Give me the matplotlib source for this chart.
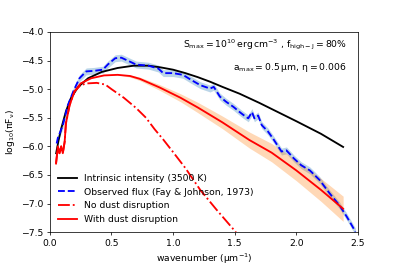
import numpy as np
import matplotlib
matplotlib.use('Agg')
import matplotlib.pyplot as plt

plt.rcParams['mathtext.default'] = 'regular'

# intrinsic intensity (3500 K)
bb_x = [0.051, 0.07, 0.092, 0.13, 0.17, 0.23, 0.31, 0.42, 0.55, 0.68, 0.8, 0.9, 1.0,
        1.1, 1.2, 1.3, 1.4, 1.54, 1.7, 1.85, 2.0, 2.2, 2.38]
bb_y = [-6.12, -5.9, -5.69, -5.39, -5.16, -4.96, -4.81, -4.70, -4.63, -4.59, -4.59, -4.62, -4.66,
        -4.72, -4.79, -4.87, -4.96, -5.08, -5.24, -5.40, -5.56, -5.78, -6.01]

# observed flux (Fay & Johnson 1973)
obs_x = [0.055, 0.065, 0.08, 0.105, 0.146, 0.19, 0.24, 0.295, 0.36, 0.43, 0.47, 0.53, 0.58,
         0.64, 0.70, 0.80, 0.88, 0.92, 1.0, 1.08, 1.14, 1.22, 1.30, 1.33, 1.38, 1.43, 1.49,
         1.54, 1.57, 1.61, 1.64, 1.66, 1.69, 1.72, 1.77, 1.81, 1.88, 1.92, 1.98, 2.04, 2.11,
         2.19, 2.27, 2.35, 2.41, 2.48]
obs_y = [-5.95, -5.85, -5.77, -5.63, -5.28, -5.04, -4.81, -4.69, -4.68, -4.66, -4.57, -4.46, -4.45,
         -4.51, -4.57, -4.59, -4.64, -4.72, -4.72, -4.75, -4.83, -4.93, -4.99, -4.96, -5.13, -5.22, -5.31,
         -5.40, -5.45, -5.51, -5.40, -5.51, -5.46, -5.63, -5.74, -5.86, -6.09, -6.07, -6.21, -6.33, -6.42,
         -6.59, -6.82, -7.03, -7.23, -7.49]
obs_err = 0.06

# no dust disruption
nod_x = [0.05, 0.065, 0.078, 0.092, 0.105, 0.12, 0.13, 0.16, 0.2, 0.25, 0.3, 0.38, 0.45, 0.5,
         0.6, 0.7, 0.78, 0.85, 0.92, 1.0, 1.1, 1.22, 1.35, 1.51]
nod_y = [-6.30, -6.0, -6.12, -6.0, -6.12, -5.92, -5.6, -5.28, -5.04, -4.93, -4.90, -4.89, -4.92, -5.0,
         -5.15, -5.33, -5.5, -5.7, -5.88, -6.1, -6.38, -6.76, -7.1, -7.5]

# with dust disruption
dis_x = [0.05, 0.065, 0.078, 0.092, 0.105, 0.12, 0.13, 0.16, 0.2, 0.25, 0.335, 0.44, 0.55, 0.65,
         0.73, 0.89, 1.06, 1.2, 1.4, 1.62, 1.8, 2.0, 2.2, 2.38]
dis_y = [-6.30, -6.0, -6.12, -6.0, -6.12, -5.92, -5.6, -5.28, -5.04, -4.9, -4.81, -4.76, -4.75, -4.77,
         -4.82, -4.97, -5.15, -5.32, -5.58, -5.89, -6.11, -6.42, -6.76, -7.09]
dis_err = [0, 0, 0, 0, 0, 0, 0, 0, 0, 0, 0, 0, 0, 0.02,
           0.03, 0.05, 0.07, 0.09, 0.11, 0.14, 0.16, 0.18, 0.2, 0.22]

fig = plt.figure(figsize=(6, 4), dpi=66.5)
ax = fig.add_subplot(111)
fig.subplots_adjust(left=0.125, right=0.897, bottom=0.127, top=0.88)

obs_y = np.array(obs_y)
dis_y = np.array(dis_y)
dis_err = np.array(dis_err)

ax.fill_between(obs_x, obs_y - obs_err, obs_y + obs_err, color='C0', alpha=0.3, lw=0)
ax.fill_between(dis_x, dis_y - dis_err, dis_y + dis_err, color='C1', alpha=0.3, lw=0)

ax.plot(bb_x, bb_y, 'k-', lw=2, label='Intrinsic intensity (3500 K)')
ax.plot(obs_x, obs_y, 'b--', lw=2, label='Observed flux (Fay & Johnson, 1973)')
ax.plot(nod_x, nod_y, 'r-.', lw=2, label='No dust disruption')
ax.plot(dis_x, dis_y, 'r-', lw=2, label='With dust disruption')

ax.text(0.964, 0.935, r'$S_{max}=10^{10}\,erg\,cm^{-3}$ , $f_{high-J}=80\%$',
        transform=ax.transAxes, ha='right', va='center')
ax.text(0.964, 0.82, r'$a_{max}=0.5\,\mu m$, $\eta=0.006$',
        transform=ax.transAxes, ha='right', va='center')

ax.set_xlim(0, 2.5)
ax.set_ylim(-7.5, -4.0)
ax.set_xlabel(r'wavenumber ($\mu m^{-1}$)')
ax.set_ylabel(r'log$_{10}$($\pi F_{\nu}$)')
ax.legend(loc='lower left', frameon=False)

fig.savefig('out.png', dpi=66.5)
